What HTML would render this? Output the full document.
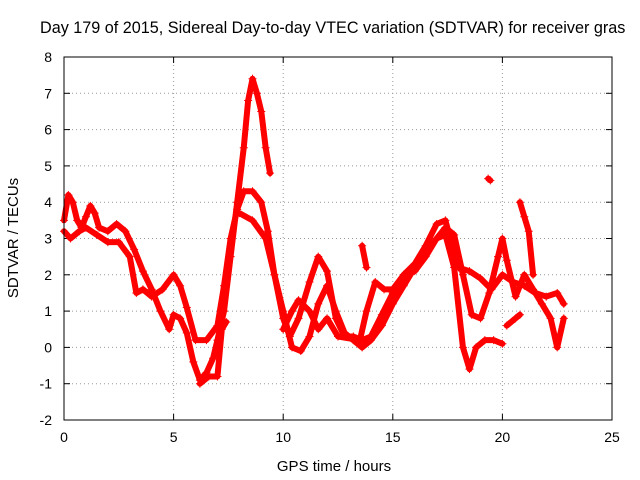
<!DOCTYPE html>
<html><head><meta charset="utf-8"><style>
body{margin:0;background:#fff}
svg{display:block;font-family:"Liberation Sans",sans-serif;font-size:14px}
</style></head><body>
<svg id="chart" width="640" height="480">
<rect width="640" height="480" fill="#fff"/>
<text x="40" y="33" font-size="16.2">Day 179 of 2015, Sidereal Day-to-day VTEC variation (SDTVAR) for receiver gras</text>
<g id="grid"></g><g id="axes"></g><g id="series"></g>
<rect x="64" y="57" width="548" height="363" fill="none" stroke="#000"/>
<text x="334" y="471" text-anchor="middle" font-size="15">GPS time / hours</text>
<text transform="translate(18,238) rotate(-90)" text-anchor="middle" font-size="15">SDTVAR / TECUs</text>
</svg>
<script>
const xTicks=[0,5,10,15,20,25];
const yTicks=[-2,-1,0,1,2,3,4,5,6,7,8];
const trackA=[[0,3.5],[0.2,4.2],[0.4,4.0],[0.6,3.5],[0.8,3.3],[1.0,3.6],[1.2,3.9],[1.4,3.7],[1.6,3.3],[2.0,3.2],[2.4,3.4],[2.8,3.2],[3.2,2.7],[3.6,2.1],[4.0,1.6],[4.4,1.0],[4.8,0.5],[5.0,0.9],[5.3,0.8],[5.6,0.4],[5.9,-0.4],[6.2,-0.9],[6.5,-0.7],[6.8,-0.3],[7.0,0.2],[7.3,1.0],[7.6,2.5],[7.9,4.0],[8.2,5.5],[8.4,6.8],[8.6,7.4],[8.8,7.0],[9.0,6.5],[9.2,5.5],[9.4,4.8]];
const trackB=[[0,3.2],[0.3,3.0],[0.7,3.2],[1.0,3.3],[1.5,3.1],[2,2.9],[2.5,2.9],[3,2.5],[3.3,1.5],[3.6,1.6],[4.0,1.4],[4.5,1.6],[5.0,2.0],[5.3,1.7],[5.6,1.1],[6,0.2],[6.5,0.2],[7,0.6],[7.3,1.7],[7.6,3.0],[7.9,3.8],[8.2,4.3],[8.6,4.3],[9.0,4.0],[9.3,3.2],[9.6,2.0],[10,0.8],[10.3,0.3],[10.7,0.8],[11.2,1.8],[11.6,2.5],[12,2.1],[12.4,0.8],[12.8,0.3],[13.2,0.3],[13.6,0.2],[14,0.3],[14.5,0.9],[15,1.5],[15.5,2.0],[16,2.3],[16.5,2.8],[17,3.4],[17.4,3.5],[17.8,2.6],[18,2.2],[18.5,2.1],[19,1.9],[19.5,1.6],[20,2.0],[20.5,1.8],[21,1.7],[21.5,1.5],[22,1.4],[22.5,1.5],[22.8,1.2]];
const trackC=[[8,3.7],[8.6,3.5],[9.2,3.0],[9.6,2.0],[10,1.0],[10.4,0.0],[10.8,-0.1],[11.2,0.3],[11.6,1.2],[12,1.7],[12.4,1.0],[12.8,0.4],[13.2,0.2],[13.6,0.0],[14,0.2],[14.5,0.6],[15,1.2],[15.5,1.7],[16,2.2],[16.5,2.6],[17,3.0],[17.4,3.1],[17.8,2.2],[18.2,0.0],[18.5,-0.6],[18.8,0.0],[19.2,0.2],[19.6,0.2],[20,0.1]];
const trackD=[[10,0.5],[10.4,1.0],[10.7,1.3],[11.2,1.0],[11.6,0.5],[12,0.8],[12.5,0.3],[13.5,0.2],[13.8,1.0],[14.2,1.8],[14.6,1.6],[15,1.6],[15.5,2.0],[16,2.1],[16.5,2.5],[17,3.0],[17.4,3.3],[17.8,3.1],[18.2,2.0],[18.6,0.9],[19,0.8],[19.4,1.5],[19.8,2.5],[20,3.0],[20.2,2.4],[20.6,1.4],[21.0,2.0],[21.4,1.6],[21.8,1.2],[22.2,0.8],[22.5,0.0],[22.8,0.8]];
const trackE=[[20.2,0.6],[20.6,0.8],[20.8,0.9]];
const trackF=[[20.8,4.0],[21,3.6],[21.2,3.2],[21.4,2.0]];
const trackG=[[6.2,-1.0],[6.6,-0.8],[7.0,-0.8],[7.2,0.5],[7.4,0.7]];
const trackH=[[13.6,2.8],[13.8,2.2]];
const trackI=[[19.35,4.65],[19.45,4.6]];
const tracks=[trackA,trackB,trackC,trackD,trackE,trackF,trackG,trackH,trackI];
const NS="http://www.w3.org/2000/svg";
const X=v=>64+v*548/25, Y=v=>420-(v+2)*363/10;
function mk(t,a,p){const e=document.createElementNS(NS,t);for(const k in a)e.setAttribute(k,a[k]);p.appendChild(e);return e;}
const grid=document.getElementById('grid'),axes=document.getElementById('axes'),ser=document.getElementById('series');
xTicks.forEach(t=>{
 if(t>0&&t<25){const g=mk('line',{x1:X(t),x2:X(t),y1:57,y2:420,stroke:'#999','stroke-dasharray':'1,3'},grid);
 }
 const l=mk('text',{x:X(t),y:442,'text-anchor':'middle'},axes);l.textContent=t;
 
 mk('line',{x1:X(t),x2:X(t),y1:420,y2:414,stroke:'#000'},axes);mk('line',{x1:X(t),x2:X(t),y1:57,y2:63,stroke:'#000'},axes);
});
yTicks.forEach(t=>{
 if(t>-2&&t<8){const g=mk('line',{x1:64,x2:612,y1:Y(t),y2:Y(t),stroke:'#999','stroke-dasharray':'1,3'},grid);
 }
 const l=mk('text',{x:52,y:Y(t)+5,'text-anchor':'end'},axes);l.textContent=t;
 
 mk('line',{x1:64,x2:70,y1:Y(t),y2:Y(t),stroke:'#000'},axes);mk('line',{x1:612,x2:606,y1:Y(t),y2:Y(t),stroke:'#000'},axes);
});
tracks.forEach(tr=>{
 const pl=mk('polyline',{points:tr.map(p=>X(p[0])+','+Y(p[1])).join(' '),fill:'none',stroke:'#f00','stroke-width':6,'stroke-linejoin':'round','stroke-linecap':'round'},ser);
 
 tr.forEach(p=>{const m=mk('path',{d:`M${X(p[0])-4},${Y(p[1])}h8M${X(p[0])},${Y(p[1])-4}v8`,stroke:'#f00','stroke-width':1},ser);
 });
});
</script>
</body></html>
